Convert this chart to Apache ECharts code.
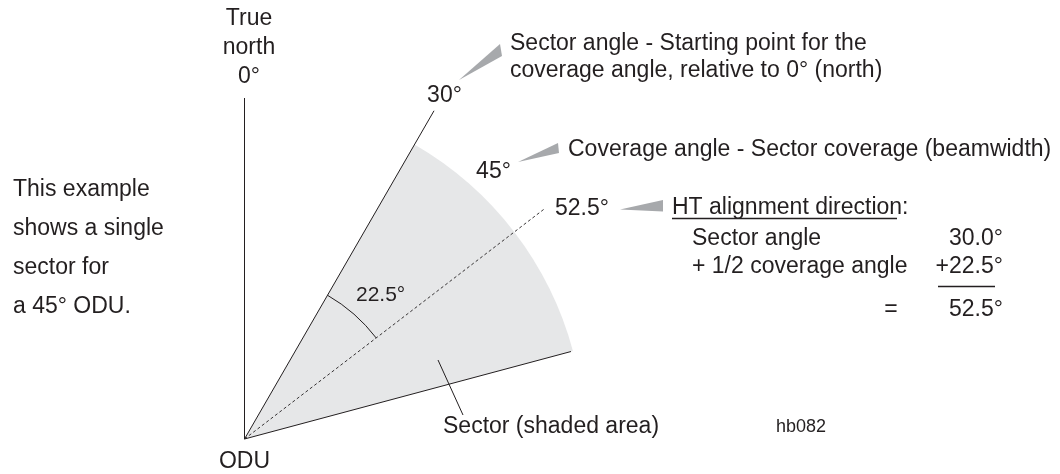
<!DOCTYPE html>
<html><head><meta charset="utf-8">
<script src="https://cdn.jsdelivr.net/npm/echarts@6/dist/echarts.min.js"></script>
<style>html,body{margin:0;padding:0;background:#fff}#c{width:1060px;height:474px}</style>
</head><body><div id="c"></div>
<script>
// ---- data (compass degrees, clockwise from true north; lengths in radius-axis units) ----
const northAngle = [0];
const northLength = [341];
const sectorStartAngle = [30];
const sectorStartLength = [379];
const sectorEndAngle = [75];
const sectorEndLength = [338];
const sectorRadius = [340];
const alignmentAngle = [52.5];
const alignmentLength = [379];
const halfArcRange = [30, 52.5];
const halfArcRadius = [166];
const angleLabels = ['30°', '45°', '52.5°'];
const tableLabels = ['Sector angle', '+ 1/2 coverage angle', '='];
const tableValues = ['30.0°', '+22.5°', '52.5°'];
const noteLines = ['This example', 'shows a single', 'sector for', 'a 45° ODU.'];
const northLines = ['True', 'north', '0°'];

const INK = '#231f20';
const FONT = '"Liberation Sans", Arial, Helvetica, sans-serif';
const chart = echarts.init(document.getElementById('c'), null, {renderer: 'canvas'});

function ray(angle, len, dashed) {
  return {
    type: 'line', coordinateSystem: 'polar', symbol: 'none', silent: true, z: 3,
    data: [[0, angle], [len, angle]],
    lineStyle: {color: INK, width: dashed ? 0.9 : 1, type: dashed ? [3, 2.5] : 'solid'}
  };
}

function txt(text, x, y, size, align) {
  return {type: 'text', x: x, y: y, silent: true, z: 10,
    style: {text: text, fill: INK, font: size + 'px ' + FONT, textAlign: align || 'left', textVerticalAlign: 'middle'}};
}
function seg(x1, y1, x2, y2, w) {
  return {type: 'line', silent: true, z: 10, shape: {x1: x1, y1: y1, x2: x2, y2: y2},
    style: {stroke: INK, lineWidth: w || 1}};
}
function wedge(pts) {
  return {type: 'polygon', silent: true, z: 9, shape: {points: pts}, style: {fill: '#a7a9ac'}};
}

const graphics = [];
northLines.forEach((t, i) => graphics.push(txt(t, 249, 18.5 + i * 29, 23, 'center')));
noteLines.forEach((t, i) => graphics.push(txt(t, 13, 190 + i * 39, 23)));
graphics.push(txt(angleLabels[0], 444.5, 96, 23, 'center'));
graphics.push(txt(angleLabels[1], 493.5, 172, 23, 'center'));
graphics.push(txt(angleLabels[2], 555, 208.5, 23));
graphics.push(txt('Sector angle - Starting point for the', 510, 43.5, 23));
graphics.push(txt('coverage angle, relative to 0° (north)', 510, 71, 23));
graphics.push(txt('Coverage angle - Sector coverage (beamwidth)', 568, 150, 23));
graphics.push(txt('HT alignment direction:', 672, 208, 23));
graphics.push(seg(672, 218.5, 897, 218.5, 1.3));
graphics.push(txt(tableLabels[0], 692, 238.5, 23));
graphics.push(txt(tableLabels[1], 692, 266.5, 23));
graphics.push(txt(tableLabels[2], 891, 310, 23, 'center'));
graphics.push(txt(tableValues[0], 1003, 238.5, 23, 'right'));
graphics.push(txt(tableValues[1], 1003, 266.5, 23, 'right'));
graphics.push(seg(938, 286.5, 995, 286.5, 1.3));
graphics.push(txt(tableValues[2], 1003, 310, 23, 'right'));
graphics.push(txt('22.5°', 356, 295, 21));
graphics.push(txt('Sector (shaded area)', 443, 427, 23));
graphics.push(txt('hb082', 776, 427, 18));
graphics.push(txt('ODU', 244.5, 461.5, 23, 'center'));
graphics.push(seg(438, 360, 463, 415, 1));
graphics.push(wedge([[459, 80], [500, 44], [502, 56]]));
graphics.push(wedge([[518, 162], [558, 143], [559, 153]]));
graphics.push(wedge([[620, 209.5], [663, 200], [663, 211.5]]));

chart.setOption({
  animation: false,
  backgroundColor: '#ffffff',
  polar: {center: [244.5, 439], radius: 400},
  angleAxis: {type: 'value', min: 0, max: 360, startAngle: 90, clockwise: true, show: false},
  radiusAxis: {type: 'value', min: 0, max: 400, show: false},
  graphic: graphics,
  series: [
    {
      type: 'custom', coordinateSystem: 'polar', silent: true, z: 1,
      dimensions: ['radius', 'angle', 'angleEnd'], encode: {radius: 0, angle: 1},
      data: [[sectorRadius[0], sectorStartAngle[0], sectorEndAngle[0]]],
      renderItem: function (params, api) {
        const r = api.value(0), a0 = api.value(1), a1 = api.value(2);
        const c = api.coord([0, a0]);
        const p0 = api.coord([r, a0]);
        const p1 = api.coord([r, a1]);
        return {type: 'sector', shape: {cx: c[0], cy: c[1], r0: 0,
            r: Math.hypot(p0[0] - c[0], p0[1] - c[1]),
            startAngle: Math.atan2(p0[1] - c[1], p0[0] - c[0]),
            endAngle: Math.atan2(p1[1] - c[1], p1[0] - c[0]), clockwise: true},
          style: {fill: '#e6e7e8'}};
      }
    },
    {
      type: 'custom', coordinateSystem: 'polar', silent: true, z: 4,
      dimensions: ['radius', 'angle', 'angleEnd'], encode: {radius: 0, angle: 1},
      data: [[halfArcRadius[0], halfArcRange[0], halfArcRange[1]]],
      renderItem: function (params, api) {
        const r = api.value(0), a0 = api.value(1), a1 = api.value(2);
        const c = api.coord([0, a0]);
        const p0 = api.coord([r, a0]);
        const p1 = api.coord([r, a1]);
        return {type: 'arc', shape: {cx: c[0], cy: c[1],
            r: Math.hypot(p0[0] - c[0], p0[1] - c[1]),
            startAngle: Math.atan2(p0[1] - c[1], p0[0] - c[0]),
            endAngle: Math.atan2(p1[1] - c[1], p1[0] - c[0]), clockwise: true},
          style: {stroke: INK, fill: null, lineWidth: 1}};
      }
    },
    ray(northAngle[0], northLength[0]),
    ray(sectorStartAngle[0], sectorStartLength[0]),
    ray(sectorEndAngle[0], sectorEndLength[0]),
    ray(alignmentAngle[0], alignmentLength[0], true)
  ]
});
</script></body></html>
